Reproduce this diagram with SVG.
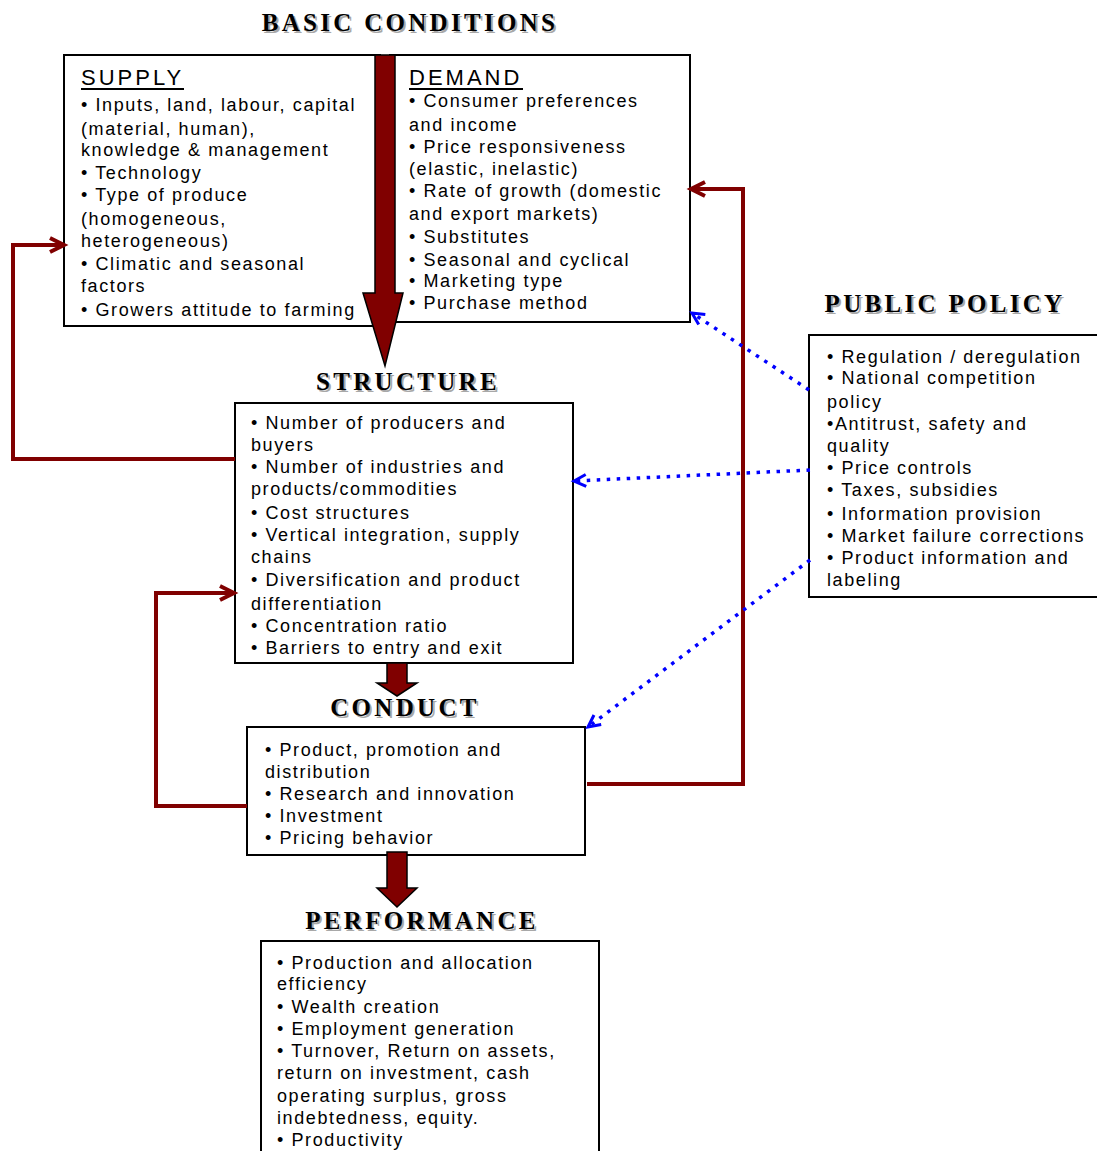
<svg xmlns="http://www.w3.org/2000/svg" width="1097" height="1151" viewBox="0 0 1097 1151">
<defs>
<style>
.t{font-family:"Liberation Sans",Arial,sans-serif;font-size:18px;letter-spacing:1.6px;fill:#000}
.h{font-family:"Liberation Sans",Arial,sans-serif;font-size:22px;letter-spacing:3px;fill:#000}
.ti{font-family:"Liberation Serif","Times New Roman",serif;font-size:25px;font-weight:bold;letter-spacing:3.3px;text-anchor:middle;fill:#000}
.sh{fill:#a8a8a8}
.box{fill:#fff;stroke:#000;stroke-width:2}
.big{fill:#800000;stroke:#000;stroke-width:1.5}
.red{fill:none;stroke:#800000;stroke-width:4}
.blue{fill:none;stroke:#0000ff;stroke-width:3.5;stroke-dasharray:3.5 6.5}
</style>
<marker id="ra" markerUnits="userSpaceOnUse" markerWidth="20" markerHeight="20" refX="15" refY="8" orient="auto" overflow="visible">
<path d="M1,1 L15,8 L1,15" fill="none" stroke="#800000" stroke-width="4"/>
</marker>
<marker id="ba" markerUnits="userSpaceOnUse" markerWidth="20" markerHeight="20" refX="13" refY="7" orient="auto" overflow="visible">
<path d="M1,1 L13,7 L1,13" fill="none" stroke="#0000ff" stroke-width="3"/>
</marker>
</defs>
<rect width="1097" height="1151" fill="#fff"/>

<g id="title-basic">
<text class="ti sh" x="412" y="33">BASIC CONDITIONS</text>
<text class="ti" x="410" y="31">BASIC CONDITIONS</text>
</g>

<g id="supply">
<rect class="box" x="64" y="55" width="316" height="271"/>
<text class="h" x="81" y="85">SUPPLY</text>
<line x1="81" y1="89" x2="184" y2="89" stroke="#000" stroke-width="2"/>
<text class="t" x="81" y="111">•  Inputs, land, labour, capital</text>
<text class="t" x="81" y="135">(material, human),</text>
<text class="t" x="81" y="156">knowledge &amp; management</text>
<text class="t" x="81" y="179">• Technology</text>
<text class="t" x="81" y="201">• Type of produce</text>
<text class="t" x="81" y="225">(homogeneous,</text>
<text class="t" x="81" y="247">heterogeneous)</text>
<text class="t" x="81" y="270">• Climatic and seasonal</text>
<text class="t" x="81" y="292">factors</text>
<text class="t" x="81" y="316">• Growers attitude to farming</text>
</g>

<g id="demand">
<rect class="box" x="390" y="55" width="300" height="267"/>
<text class="h" x="409" y="85">DEMAND</text>
<line x1="409" y1="89" x2="523" y2="89" stroke="#000" stroke-width="2"/>
<text class="t" x="409" y="107">• Consumer preferences</text>
<text class="t" x="409" y="131">and income</text>
<text class="t" x="409" y="153">• Price responsiveness</text>
<text class="t" x="409" y="175">(elastic, inelastic)</text>
<text class="t" x="409" y="197">• Rate of growth (domestic</text>
<text class="t" x="409" y="220">and export markets)</text>
<text class="t" x="409" y="243">• Substitutes</text>
<text class="t" x="409" y="266">• Seasonal and cyclical</text>
<text class="t" x="409" y="287">• Marketing type</text>
<text class="t" x="409" y="309">• Purchase method</text>
</g>

<g id="arrow-basic-structure">
<path class="big" d="M375,55 L395,55 L395,293 L403,293 L385,366 L363,293 L375,293 Z"/>
</g>

<g id="title-structure">
<text class="ti sh" x="410" y="392">STRUCTURE</text>
<text class="ti" x="408" y="390">STRUCTURE</text>
</g>

<g id="structure">
<rect class="box" x="235" y="403" width="338" height="260"/>
<text class="t" x="251" y="429">• Number of producers and</text>
<text class="t" x="251" y="451">buyers</text>
<text class="t" x="251" y="473">• Number of industries and</text>
<text class="t" x="251" y="495">products/commodities</text>
<text class="t" x="251" y="519">• Cost structures</text>
<text class="t" x="251" y="541">• Vertical integration, supply</text>
<text class="t" x="251" y="563">chains</text>
<text class="t" x="251" y="586">• Diversification and product</text>
<text class="t" x="251" y="610">differentiation</text>
<text class="t" x="251" y="632">• Concentration ratio</text>
<text class="t" x="251" y="654">• Barriers to entry and exit</text>
</g>

<g id="arrow-structure-conduct">
<path class="big" d="M387,663 L407,663 L407,683 L417,683 L397,696 L377,683 L387,683 Z"/>
</g>

<g id="title-conduct">
<text class="ti sh" x="407" y="718">CONDUCT</text>
<text class="ti" x="405" y="716">CONDUCT</text>
</g>

<g id="conduct">
<rect class="box" x="247" y="727" width="338" height="128"/>
<text class="t" x="265" y="756">• Product, promotion and</text>
<text class="t" x="265" y="778">distribution</text>
<text class="t" x="265" y="800">• Research and innovation</text>
<text class="t" x="265" y="822">• Investment</text>
<text class="t" x="265" y="844">• Pricing behavior</text>
</g>

<g id="arrow-conduct-performance">
<path class="big" d="M387,852 L407,852 L407,888 L417,888 L397,907 L377,888 L387,888 Z"/>
</g>

<g id="title-performance">
<text class="ti sh" x="424" y="931">PERFORMANCE</text>
<text class="ti" x="422" y="929">PERFORMANCE</text>
</g>

<g id="performance">
<rect class="box" x="261" y="941" width="338" height="220"/>
<text class="t" x="277" y="969">• Production and allocation</text>
<text class="t" x="277" y="990">efficiency</text>
<text class="t" x="277" y="1013">• Wealth creation</text>
<text class="t" x="277" y="1035">• Employment generation</text>
<text class="t" x="277" y="1057">• Turnover, Return on assets,</text>
<text class="t" x="277" y="1079">return on investment, cash</text>
<text class="t" x="277" y="1102">operating surplus, gross</text>
<text class="t" x="277" y="1124">indebtedness, equity.</text>
<text class="t" x="277" y="1146">• Productivity</text>
</g>

<g id="title-public-policy">
<text class="ti sh" x="947" y="314">PUBLIC POLICY</text>
<text class="ti" x="945" y="312">PUBLIC POLICY</text>
</g>

<g id="public-policy">
<rect class="box" x="809" y="335" width="300" height="262"/>
<text class="t" x="827" y="363">• Regulation / deregulation</text>
<text class="t" x="827" y="384">• National competition</text>
<text class="t" x="827" y="408">policy</text>
<text class="t" x="827" y="430">•Antitrust, safety and</text>
<text class="t" x="827" y="452">quality</text>
<text class="t" x="827" y="474">• Price controls</text>
<text class="t" x="827" y="496">• Taxes, subsidies</text>
<text class="t" x="827" y="520">• Information provision</text>
<text class="t" x="827" y="542">• Market failure corrections</text>
<text class="t" x="827" y="564">• Product information and</text>
<text class="t" x="827" y="586">labeling</text>
</g>

<g id="connectors">
<polyline class="red" points="235,459 13,459 13,245 64,245" marker-end="url(#ra)"/>
<polyline class="red" points="247,806 156,806 156,593 234,593" marker-end="url(#ra)"/>
<polyline class="red" points="587,784 743,784 743,189 691,189" marker-end="url(#ra)"/>
<line class="blue" x1="809" y1="390" x2="692" y2="313" marker-end="url(#ba)"/>
<line class="blue" x1="810" y1="470" x2="574" y2="481" marker-end="url(#ba)"/>
<line class="blue" x1="810" y1="560" x2="588" y2="727" marker-end="url(#ba)"/>
</g>
</svg>
